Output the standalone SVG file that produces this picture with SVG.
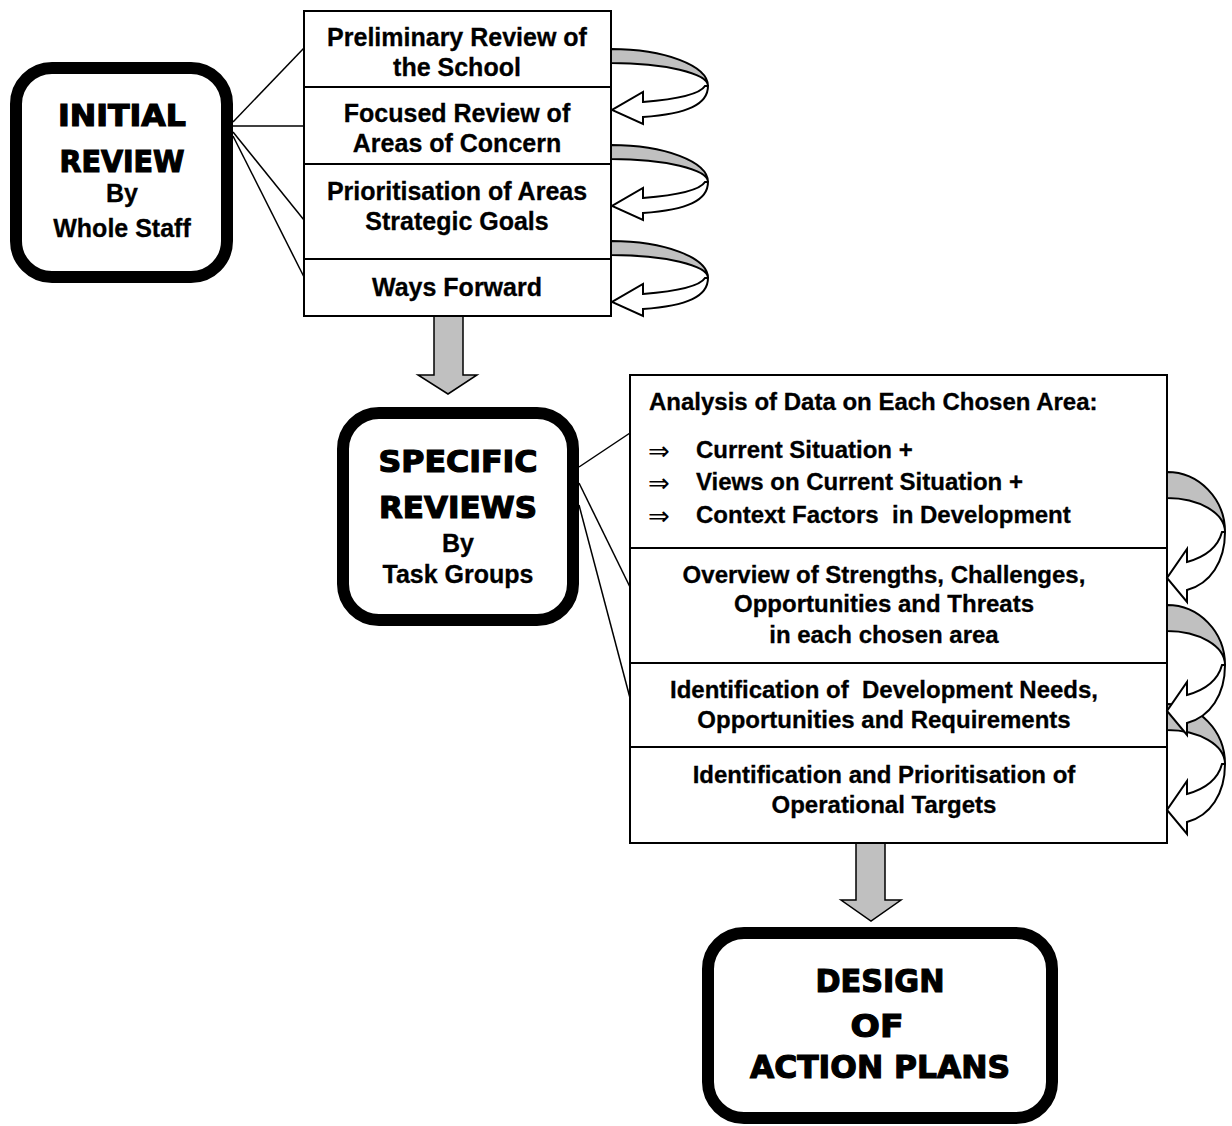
<svg xmlns="http://www.w3.org/2000/svg" width="1232" height="1126" viewBox="0 0 1232 1126">
<style>
.bg{fill:#ffffff}
.term{fill:#ffffff;stroke:#000;stroke-width:12}
.box{fill:#ffffff;stroke:#000;stroke-width:2}
.div{stroke:#000;stroke-width:2}
.con{stroke:#000;stroke-width:1.5;fill:none}
.down{fill:#c0c0c0;stroke:#000;stroke-width:1.5}
.band{fill:#c0c0c0;stroke:#000;stroke-width:2}
.curl{fill:#ffffff;stroke:#000;stroke-width:2}
.t{font-family:"Liberation Sans",Arial,sans-serif;font-weight:bold;font-size:25px;fill:#000;stroke:#000;stroke-width:0.3}
.s{font-size:24px}
.c{text-anchor:middle}
.h{font-family:"DejaVu Sans","Liberation Sans",sans-serif;font-weight:bold;font-size:30px;fill:#000;stroke:#000;stroke-width:1.2;text-anchor:middle}
.h2{font-size:32px}
.sym{font-family:"DejaVu Sans",sans-serif;font-size:26px;fill:#000}
</style>
<rect class="bg" x="0" y="0" width="1232" height="1126"/>

<g id="connectors">
  <line class="con" x1="233" y1="122" x2="304" y2="48"/>
  <line class="con" x1="233" y1="126" x2="304" y2="126"/>
  <line class="con" x1="233" y1="132" x2="304" y2="220"/>
  <line class="con" x1="233" y1="136" x2="304" y2="277"/>
  <line class="con" x1="579" y1="467" x2="630" y2="433"/>
  <line class="con" x1="579" y1="483" x2="630" y2="587"/>
  <line class="con" x1="579" y1="505" x2="630" y2="698"/>
  <path class="down" d="M434,316 L463,316 L463,375 L477,375 L448,394 L418,375 L434,375 Z"/>
  <path class="down" d="M856,843 L885,843 L885,900 L901,900 L871,921 L841,900 L856,900 Z"/>
</g>

<g id="initial-review">
  <rect class="term" x="16" y="68" width="211" height="209" rx="36"/>
  <text class="h" x="122" y="126" textLength="128" lengthAdjust="spacingAndGlyphs">INITIAL</text>
  <text class="h" x="122" y="172" textLength="125" lengthAdjust="spacingAndGlyphs">REVIEW</text>
  <text class="t c" x="122" y="202">By</text>
  <text class="t c" x="122" y="237">Whole Staff</text>
</g>

<g id="initial-steps">
  <rect class="box" x="304" y="11" width="307" height="305"/>
  <line class="div" x1="304" y1="87" x2="611" y2="87"/>
  <line class="div" x1="304" y1="164" x2="611" y2="164"/>
  <line class="div" x1="304" y1="259" x2="611" y2="259"/>
  <text class="t c" x="457" y="46">Preliminary Review of</text>
  <text class="t c" x="457" y="76">the School</text>
  <text class="t c" x="457" y="122">Focused Review of</text>
  <text class="t c" x="457" y="152">Areas of Concern</text>
  <text class="t c" x="457" y="200">Prioritisation of Areas</text>
  <text class="t c" x="457" y="230">Strategic Goals</text>
  <text class="t c" x="457" y="296">Ways Forward</text>
</g>

<g id="specific-reviews">
  <rect class="term" x="343" y="413" width="230" height="207" rx="36"/>
  <text class="h" x="458" y="472" textLength="159" lengthAdjust="spacingAndGlyphs">SPECIFIC</text>
  <text class="h" x="458" y="518" textLength="158" lengthAdjust="spacingAndGlyphs">REVIEWS</text>
  <text class="t c" x="458" y="552">By</text>
  <text class="t c" x="458" y="583">Task Groups</text>
</g>

<g id="specific-steps">
  <rect class="box" x="630" y="375" width="537" height="468"/>
  <line class="div" x1="630" y1="548" x2="1167" y2="548"/>
  <line class="div" x1="630" y1="663" x2="1167" y2="663"/>
  <line class="div" x1="630" y1="747" x2="1167" y2="747"/>
  <text class="t s" x="649" y="410">Analysis of Data on Each Chosen Area:</text>
  <text class="sym" x="648" y="460">⇒</text>
  <text class="sym" x="648" y="492">⇒</text>
  <text class="sym" x="648" y="525">⇒</text>
  <text class="t s" x="696" y="458">Current Situation +</text>
  <text class="t s" x="696" y="490">Views on Current Situation +</text>
  <text class="t s" x="696" y="523" xml:space="preserve">Context Factors  in Development</text>
  <text class="t s c" x="884" y="583">Overview of Strengths, Challenges,</text>
  <text class="t s c" x="884" y="612">Opportunities and Threats</text>
  <text class="t s c" x="884" y="643">in each chosen area</text>
  <text class="t s c" x="884" y="698" xml:space="preserve">Identification of  Development Needs,</text>
  <text class="t s c" x="884" y="728">Opportunities and Requirements</text>
  <text class="t s c" x="884" y="783">Identification and Prioritisation of</text>
  <text class="t s c" x="884" y="813">Operational Targets</text>
</g>

<g id="design-action-plans">
  <rect class="term" x="708" y="933" width="344" height="185" rx="36"/>
  <text class="h h2" x="880" y="992" textLength="129" lengthAdjust="spacingAndGlyphs">DESIGN</text>
  <text class="h h2" x="877" y="1037" textLength="53" lengthAdjust="spacingAndGlyphs">OF</text>
  <text class="h h2" x="880" y="1078" textLength="260" lengthAdjust="spacingAndGlyphs">ACTION PLANS</text>
</g>

<g id="loop-arrows">
  <path class="band" d="M611,49 A97,37 0 0 1 708,86 A97,23 0 0 0 611,63 Z"/>
  <path class="band" d="M611,145 A97,37 0 0 1 708,182 A97,23 0 0 0 611,159 Z"/>
  <path class="band" d="M611,241 A97,37 0 0 1 708,278 A97,23 0 0 0 611,255 Z"/>
  <path class="curl" d="M708,86 C708,104 688,114 643,117 L643,124 L612,110 L643,92 L643,102 C680,99 700,94 705,86 Z"/>
  <path class="curl" d="M708,182 C708,200 688,210 643,213 L643,220 L612,206 L643,188 L643,198 C680,195 700,190 705,182 Z"/>
  <path class="curl" d="M708,278 C708,296 688,306 643,309 L643,316 L612,302 L643,284 L643,294 C680,291 700,286 705,278 Z"/>

  <path class="band" d="M1167,704 A58,60 0 0 1 1225,764 A58,34 0 0 0 1167,730 Z"/>
  <path class="band" d="M1167,605 A58,60 0 0 1 1225,665 A58,34 0 0 0 1167,631 Z"/>
  <path class="band" d="M1167,472 A58,60 0 0 1 1225,532 A58,34 0 0 0 1167,498 Z"/>
  <path class="curl" d="M1225,532 C1225,562 1210,584 1187,590 L1187,602 L1167,578 L1187,549 L1187,562 C1205,557 1218,547 1222,532 Z"/>
  <path class="curl" d="M1225,665 C1225,695 1210,717 1187,723 L1187,735 L1167,711 L1187,682 L1187,695 C1205,690 1218,680 1222,665 Z"/>
  <path class="curl" d="M1225,764 C1225,794 1210,816 1187,822 L1187,834 L1167,810 L1187,781 L1187,794 C1205,789 1218,779 1222,764 Z"/>
</g>
</svg>
